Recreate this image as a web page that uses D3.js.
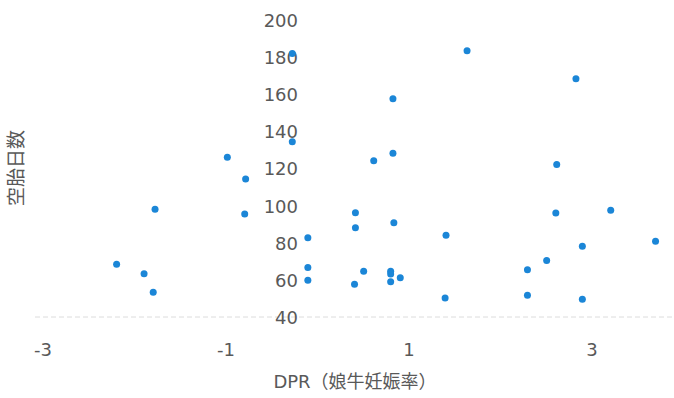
<!DOCTYPE html>
<html>
<head>
<meta charset="utf-8">
<script src="https://cdn.jsdelivr.net/npm/d3@7"></script>
<style>
  html, body { margin: 0; padding: 0; background: #fff; }
  svg { display: block; }
</style>
</head>
<body>
<svg id="chart" width="674" height="398"></svg>
<script>
// DPR (heifer pregnancy rate) vs. days open
const dprValues = [
  -2.19, -1.89, -1.79, -1.77, -0.98, -0.78, -0.79, -0.27, -0.27, -0.10,
  -0.10, -0.10, 0.42, 0.42, 0.41, 0.51, 0.62, 0.83, 0.83, 0.84,
  0.805, 0.805, 0.805, 0.91, 1.41, 1.40, 1.64, 2.30, 2.30, 2.51,
  2.61, 2.62, 2.83, 2.90, 2.90, 3.21, 3.70
];
const daysOpen = [
  68.4, 63.3, 53.3, 98.0, 126.0, 114.4, 95.5, 182.0, 134.4, 82.7,
  66.7, 59.8, 96.2, 88.1, 57.6, 64.6, 124.2, 157.6, 128.2, 90.8,
  64.6, 63.1, 59.0, 61.2, 84.0, 50.2, 183.5, 65.5, 51.7, 70.5,
  96.0, 122.1, 168.4, 78.1, 49.5, 97.5, 80.8
];
const xTicks = [-3, -1, 1, 3];
const yTicks = [40, 60, 80, 100, 120, 140, 160, 180, 200];
const xTitle = "DPR（娘牛妊娠率）";
const yTitle = "空胎日数";

const points = dprValues.map((d, i) => ({ x: d, y: daysOpen[i] }));

const svg = d3.select("#chart");
const x = d3.scaleLinear().domain([-3, 4]).range([42.5, 683]);
const y = d3.scaleLinear().domain([40, 200]).range([317, 20]);

const textColor = "#595959";
const font = "'DejaVu Sans', sans-serif";

// horizontal axis line at the minimum of the value axis
svg.append("line")
  .attr("x1", 35).attr("x2", 674)
  .attr("y1", y(40)).attr("y2", y(40))
  .attr("stroke", "#dcdcdc")
  .attr("stroke-width", 1)
  .attr("stroke-dasharray", "5 3");

// x axis tick labels (plain hyphen for negatives)
const xAxis = d3.axisBottom(x).tickValues(xTicks).tickSize(0).tickPadding(0)
  .tickFormat(d => String(d));
const gx = svg.append("g").attr("transform", `translate(0, ${y(40) + 24})`).call(xAxis);
gx.select(".domain").remove();
gx.selectAll("text")
  .attr("font-family", font).attr("font-size", 18).attr("fill", textColor)
  .attr("dy", "0.35em").attr("y", 9);

// y axis tick labels, placed left of the zero line
const yAxis = d3.axisLeft(y).tickValues(yTicks).tickSize(0).tickPadding(0);
const gy = svg.append("g").attr("transform", `translate(${x(0) - 19}, 0)`).call(yAxis);
gy.select(".domain").remove();
gy.selectAll("text")
  .attr("font-family", font).attr("font-size", 18).attr("fill", textColor)
  .attr("dy", "0.36em");

// points
svg.append("g").selectAll("circle")
  .data(points)
  .join("circle")
  .attr("cx", d => x(d.x))
  .attr("cy", d => y(d.y))
  .attr("r", 3.5)
  .attr("fill", "#1b86d7");

// axis titles
svg.append("text")
  .attr("x", 355).attr("y", 383)
  .attr("text-anchor", "middle").attr("dominant-baseline", "middle")
  .attr("font-family", "'DejaVu Sans', 'Noto Sans CJK JP', sans-serif")
  .attr("font-size", 18).attr("fill", textColor)
  .text(xTitle);

svg.append("text")
  .attr("transform", "translate(18, 168) rotate(-90)")
  .attr("text-anchor", "middle").attr("dominant-baseline", "middle")
  .attr("font-family", "'Noto Sans CJK JP', sans-serif")
  .attr("font-size", 19).attr("fill", textColor)
  .text(yTitle);
</script>
</body>
</html>
